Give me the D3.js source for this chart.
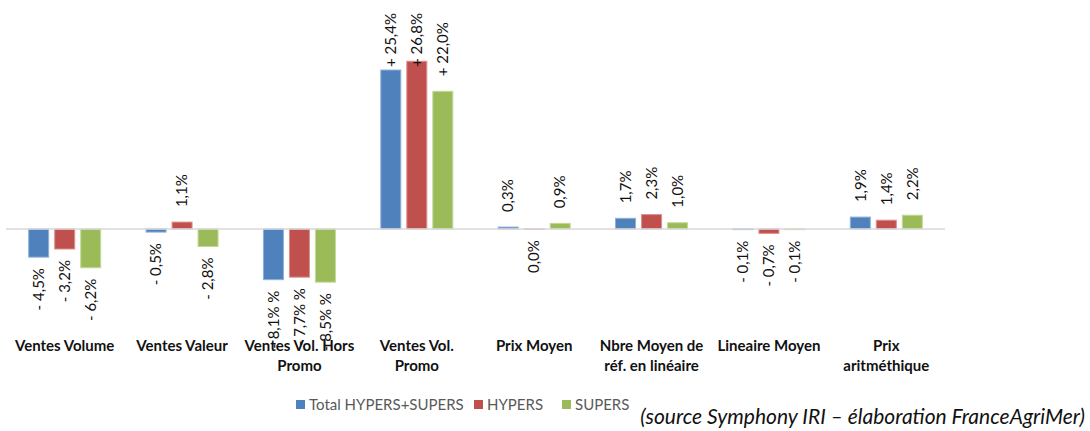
<!DOCTYPE html>
<html>
<head>
<meta charset="utf-8">
<script src="https://cdn.jsdelivr.net/npm/d3@7"></script>
<style>
  body { margin: 0; background: #fff; }
  svg { display: block; }
  .lbl { font-family: Lato, "Open Sans", sans-serif; font-size: 15px; fill: #111; }
  .cat { font-family: Lato, "Open Sans", sans-serif; font-size: 15px; font-weight: bold; fill: #111; }
  .leg { font-family: Lato, "Open Sans", sans-serif; font-size: 15px; fill: #595959; }
  .src { font-family: Lato, "Open Sans", sans-serif; font-size: 21px; font-style: italic; fill: #111; }
</style>
</head>
<body>
<div id="chart"></div>
<script>

// categories (line breaks as in the picture)
var categories = [
	'Ventes Volume',
	'Ventes Valeur',
	'Ventes Vol. Hors\nPromo',
	'Ventes Vol.\nPromo',
	'Prix Moyen',
	'Nbre Moyen de\nréf. en linéaire',
	'Lineaire Moyen',
	'Prix\naritméthique'
];

var seriesNames = ['Total HYPERS+SUPERS', 'HYPERS', 'SUPERS'];

// values in %
var totalValues  = [-4.5, -0.5, -8.1, 25.4,  0.3, 1.7, -0.1, 1.9];
var hypersValues = [-3.2,  1.1, -7.7, 26.8, -0.04, 2.3, -0.7, 1.4];
var supersValues = [-6.2, -2.8, -8.5, 22.0,  0.9, 1.0, -0.1, 2.2];

// data labels as printed
var totalLabels  = ['- 4,5%', '- 0,5%', '- 8,1% %', '+ 25,4%', '0,3%', '1,7%', '- 0,1%', '1,9%'];
var hypersLabels = ['- 3,2%', '1,1%',   '- 7,7% %', '+ 26,8%', '0,0%', '2,3%', '- 0,7%', '1,4%'];
var supersLabels = ['- 6,2%', '- 2,8%', '- 8,5% %', '+ 22,0%', '0,9%', '1,0%', '- 0,1%', '2,2%'];

var sourceText = '(source Symphony IRI – élaboration FranceAgriMer)';

var colors = ['#4f81bd', '#c0504d', '#9bbb59'];
var strokes = ['#8fb0da', '#dc8f8d', '#c3d99b'];

var width = 1090, height = 431;

var series = [totalValues, hypersValues, supersValues].map(function(vals, s) {
	var labs = [totalLabels, hypersLabels, supersLabels][s];
	return vals.map(function(v, i) {
		return { s: s, cat: categories[i], value: v, label: labs[i] };
	});
});
var flat = d3.merge(series);

var svg = d3.select('#chart')
			.append('svg')
			.attr('width', width)
			.attr('height', height);

var x0 = d3.scaleBand()
			.domain(categories)
			.range([6, 945])
			.padding(0);

var groupW = 72;
var x1 = d3.scaleBand()
			.domain([0, 1, 2])
			.range([0, groupW])
			.paddingInner(0.231)
			.paddingOuter(0);

var y = d3.scaleLinear()
			.domain([-9, 27])
			.range([285.3, 60]);

function barX(d) {
	return x0(d.cat) + x0.bandwidth() / 2 - groupW / 2 + x1(d.s);
}

// bars
svg.append('g')
   .selectAll('rect')
   .data(flat)
   .enter()
   .append('rect')
   .attr('x', barX)
   .attr('width', x1.bandwidth())
   .attr('y', function(d) { return Math.min(y(d.value), y(0)); })
   .attr('height', function(d) { return Math.abs(y(d.value) - y(0)); })
   .attr('fill', function(d) { return colors[d.s]; })
   .attr('stroke', function(d) { return strokes[d.s]; })
   .attr('stroke-width', 1);

// zero line
svg.append('line')
   .attr('x1', x0.range()[0])
   .attr('x2', x0.range()[1])
   .attr('y1', y(0))
   .attr('y2', y(0))
   .attr('stroke', '#d9d9d9')
   .attr('stroke-width', 1.3);

// data labels (rotated)
svg.append('g')
   .selectAll('text')
   .data(flat)
   .enter()
   .append('text')
   .attr('class', 'lbl')
   .text(function(d) { return d.label; })
   .attr('dy', '0.35em')
   .attr('text-anchor', function(d) { return d.value >= 0 ? 'start' : 'end'; })
   .attr('transform', function(d) {
		var cx = barX(d) + x1.bandwidth() / 2;
		var len = this.getComputedTextLength();
		var yy;
		if (d.value >= 0) {
			yy = Math.max(y(d.value) - 15, 13 + len);
		} else {
			yy = y(d.value) + 11;
		}
		return 'translate(' + cx + ',' + yy + ') rotate(-90)';
   });

// category labels
var cats = svg.append('g')
			  .selectAll('text')
			  .data(categories)
			  .enter()
			  .append('text')
			  .attr('class', 'cat')
			  .attr('text-anchor', 'middle')
			  .attr('x', function(d) { return x0(d) + x0.bandwidth() / 2; })
			  .attr('y', 351);
cats.selectAll('tspan')
	.data(function(d) { return d.split('\n'); })
	.enter()
	.append('tspan')
	.attr('x', function() { return d3.select(this.parentNode).attr('x'); })
	.attr('dy', function(d, i) { return i ? 20 : 0; })
	.text(function(d) { return d; });

// legend
var legX = [296, 474, 562];
var leg = svg.append('g')
			 .selectAll('g')
			 .data(seriesNames)
			 .enter()
			 .append('g')
			 .attr('transform', function(d, i) { return 'translate(' + legX[i] + ',400)'; });
leg.append('rect')
   .attr('width', 9)
   .attr('height', 9)
   .attr('fill', function(d, i) { return colors[i]; });
leg.append('text')
   .attr('class', 'leg')
   .attr('x', 13)
   .attr('y', 9.5)
   .text(function(d) { return d; });

// source
svg.append('text')
   .attr('class', 'src')
   .attr('text-anchor', 'end')
   .attr('x', 1085)
   .attr('y', 424)
   .text(sourceText);

</script>
</body>
</html>
